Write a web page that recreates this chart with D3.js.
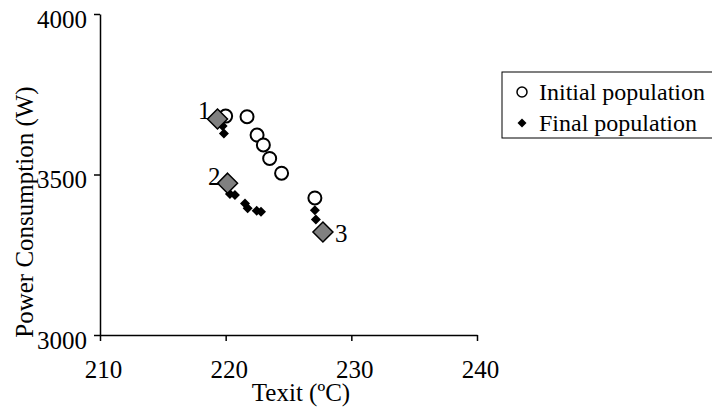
<!DOCTYPE html>
<html><head><meta charset="utf-8">
<script src="https://cdn.jsdelivr.net/npm/d3@7"></script>
<style>body{margin:0;background:#fff;overflow:hidden}svg{display:block}</style>
</head><body>
<svg id="c" width="712" height="412"></svg>
<script>
const xTicks = [210, 220, 230, 240];
const yTicks = [3000, 3500, 4000];
const initialX = [220.0, 221.7, 222.5, 223.0, 223.5, 224.45, 227.1];
const initialY = [3682, 3680, 3623, 3592, 3550, 3504, 3427];
const finalX = [219.76, 219.86, 220.34, 220.74, 221.54, 221.75, 222.47, 222.81, 227.1, 227.18];
const finalY = [3651, 3628, 3439, 3436, 3410, 3395, 3387, 3384, 3389, 3360];
const selectedX = [219.35, 220.15, 227.74];
const selectedY = [3673, 3473, 3321];
const selectedLabels = ["1", "2", "3"];
const legendLabels = ["Initial population", "Final population"];
const xTitle = "Texit (ºC)";
const yTitle = "Power Consumption (W)";

const svg = d3.select("#c");
const font = "'Liberation Serif', 'Times New Roman', serif";
const fs = "25px";
const x = d3.scaleLinear().domain([210, 240]).range([100, 477]);
const y = d3.scaleLinear().domain([3000, 4000]).range([335, 14]);

const gx = svg.append("g").attr("transform", "translate(0,335)")
  .call(d3.axisBottom(x).tickValues(xTicks).tickFormat(d3.format("d")).tickSize(6).tickPadding(19).tickSizeOuter(0));
const gy = svg.append("g").attr("transform", "translate(100,0)")
  .call(d3.axisLeft(y).tickValues(yTicks).tickFormat(d3.format("d")).tickSize(6).tickPadding(7).tickSizeOuter(0));
[gx, gy].forEach(g => {
  g.attr("font-family", null).attr("font-size", null);
  g.select(".domain").attr("stroke", "#000").attr("stroke-width", 1.5);
  g.selectAll(".tick line").attr("stroke", "#000").attr("stroke-width", 1.5);
  g.selectAll(".tick text").attr("fill", "#000").style("font-family", font).style("font-size", fs);
});
gx.selectAll(".tick text").attr("dx", 3);
gy.selectAll(".tick text").attr("transform", "translate(0,5)");

svg.append("text").attr("x", 301).attr("y", 401).attr("text-anchor", "middle")
  .style("font-family", font).style("font-size", fs).text(xTitle);
svg.append("text").attr("transform", "translate(33,212) rotate(-90)").attr("text-anchor", "middle")
  .style("font-family", font).style("font-size", fs).text(yTitle);

const diamond = (cx, cy, r) => `M${cx},${cy - r}L${cx + r},${cy}L${cx},${cy + r}L${cx - r},${cy}Z`;

svg.append("g").selectAll("circle").data(initialX.map((d, i) => [d, initialY[i]])).join("circle")
  .attr("cx", d => x(d[0])).attr("cy", d => y(d[1])).attr("r", 6.5)
  .attr("fill", "#fff").attr("stroke", "#000").attr("stroke-width", 2);

svg.append("g").selectAll("path").data(finalX.map((d, i) => [d, finalY[i]])).join("path")
  .attr("d", d => diamond(x(d[0]), y(d[1]), 5)).attr("fill", "#000");

svg.append("g").selectAll("path").data(selectedX.map((d, i) => [d, selectedY[i]])).join("path")
  .attr("d", d => diamond(x(d[0]), y(d[1]), 10)).attr("fill", "#808080")
  .attr("stroke", "#000").attr("stroke-width", 1.5);

const labOff = [[-7, 0, "end"], [-7, 2, "end"], [12, 10, "start"]];
svg.append("g").selectAll("text").data(selectedX.map((d, i) => [d, selectedY[i], selectedLabels[i], labOff[i]])).join("text")
  .attr("x", d => x(d[0]) + d[3][0]).attr("y", d => y(d[1]) + d[3][1])
  .attr("text-anchor", d => d[3][2])
  .style("font-family", font).style("font-size", fs).text(d => d[2]);

const lg = svg.append("g");
lg.append("rect").attr("x", 502).attr("y", 72).attr("width", 260).attr("height", 66)
  .attr("fill", "#fff").attr("stroke", "#000").attr("stroke-width", 1);
lg.append("circle").attr("cx", 522).attr("cy", 92).attr("r", 5).attr("fill", "#fff").attr("stroke", "#000").attr("stroke-width", 1.5);
lg.append("path").attr("d", diamond(522, 123, 4.5)).attr("fill", "#000");
lg.selectAll("text").data(legendLabels).join("text")
  .attr("x", 539).attr("y", (d, i) => 100 + i * 31)
  .style("font-family", font).style("font-size", "24px").text(d => d);
</script>
</body></html>
